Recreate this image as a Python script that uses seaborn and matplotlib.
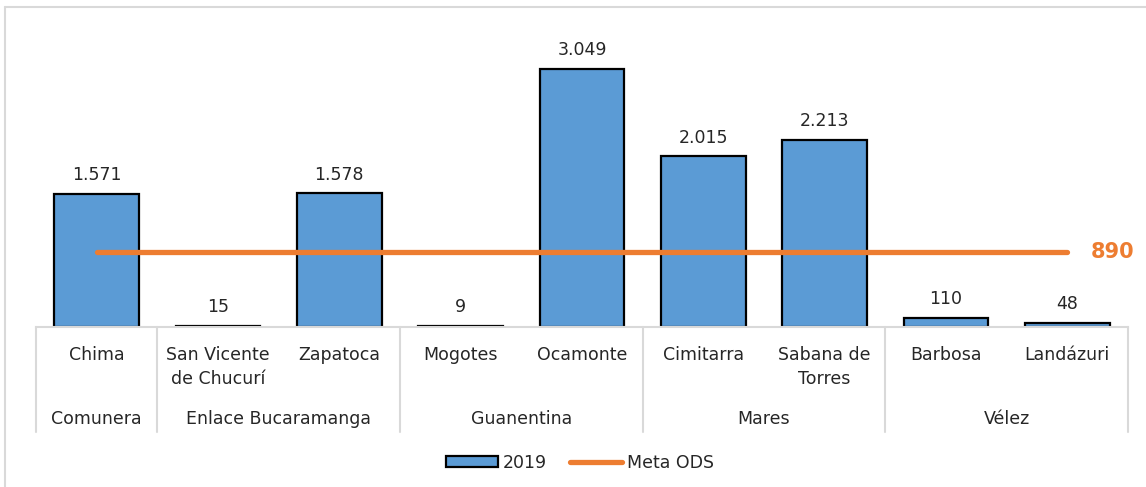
import matplotlib
matplotlib.use("Agg")
import matplotlib.pyplot as plt
import matplotlib.transforms as mtransforms
from matplotlib.patches import Patch
from matplotlib.lines import Line2D
import seaborn as sns
import pandas as pd

municipios = ["Chima", "San Vicente\nde Chucurí", "Zapatoca", "Mogotes", "Ocamonte",
              "Cimitarra", "Sabana de\nTorres", "Barbosa", "Landázuri"]
provincias = ["Comunera", "Enlace Bucaramanga", "Guanentina", "Mares", "Vélez"]
prov_count = [1, 2, 2, 2, 2]
valores_2019 = [1571, 15, 1578, 9, 3049, 2015, 2213, 110, 48]
meta_ods = 890

sns.set_theme(style="white")
plt.rcParams["font.family"] = ["DejaVu Sans"]

BLUE = "#5B9BD5"
ORANGE = "#ED7D31"
GRID = "#D9D9D9"
TXT = "#262626"
FS = 12.5

fig = plt.figure(figsize=(11.46, 4.87), dpi=100)
ax = fig.add_axes([36/1146, 1-327/487, (1128-36)/1146, (327-20)/487])

df = pd.DataFrame({"municipio": municipios, "valor": valores_2019})
sns.barplot(data=df, x="municipio", y="valor", color=BLUE, edgecolor="black",
            linewidth=1.6, width=0.7, saturation=1, ax=ax)
ax.plot(municipios, [meta_ods]*len(municipios), color=ORANGE, lw=3.8,
        solid_capstyle="round", zorder=5)

ax.set_xlim(-0.5, len(municipios)-0.5)
ax.set_ylim(0, (327-20)/((327-69)/3049))
ax.set_xlabel("")
ax.set_ylabel("")
ax.set_xticks([])
ax.set_yticks([])
for s in ["top", "right", "left"]:
    ax.spines[s].set_visible(False)
ax.spines["bottom"].set_color(GRID)
ax.spines["bottom"].set_linewidth(1.5)

# value labels
for i, v in enumerate(valores_2019):
    ax.annotate(f"{v:,}".replace(",", "."), (i, v), xytext=(0, 10),
                textcoords="offset points", ha="center", va="baseline",
                fontsize=FS, color=TXT)

ax.annotate(str(meta_ods), (len(municipios)-1, meta_ods), xytext=(23, 0),
            textcoords="offset pixels", color=ORANGE, fontsize=15,
            fontweight="bold", ha="left", va="center", annotation_clip=False)

# multi-level axis
tr = mtransforms.blended_transform_factory(ax.transData, fig.transFigure)
for i, m in enumerate(municipios):
    ax.text(i, 1-346/487, m, transform=tr, ha="center", va="top",
            fontsize=FS, color=TXT, linespacing=1.4, clip_on=False)
start = 0
bounds = [-0.5]
for p, c in zip(provincias, prov_count):
    center = start + (c-1)/2
    ax.text(center, 1-410/487, p, transform=tr, ha="center", va="top",
            fontsize=FS, color=TXT, clip_on=False)
    start += c
    bounds.append(start-0.5)
for b in bounds:
    ax.add_line(Line2D([b, b], [1-327/487, 1-432/487], transform=tr,
                       color=GRID, lw=1.5, clip_on=False))

# outer chart border (partially visible)
fig.add_artist(Line2D([5/1146, 5/1146], [0, 1-7/487], transform=fig.transFigure,
                      color=GRID, lw=1.5))
fig.add_artist(Line2D([5/1146, 1], [1-7/487, 1-7/487], transform=fig.transFigure,
                      color=GRID, lw=1.5))

handles = [Patch(facecolor=BLUE, edgecolor="black", linewidth=1.6, label="2019"),
           Line2D([0], [0], color=ORANGE, lw=3.8, solid_capstyle="round", label="Meta ODS")]
leg = fig.legend(handles=handles, loc="center", bbox_to_anchor=(580/1146, 1-463/487),
                 ncol=2, frameon=False, fontsize=FS, handlelength=3.0,
                 handleheight=0.6, columnspacing=1.3, handletextpad=0.3)
for t in leg.get_texts():
    t.set_color(TXT)

fig.savefig("out.png", dpi=100)
